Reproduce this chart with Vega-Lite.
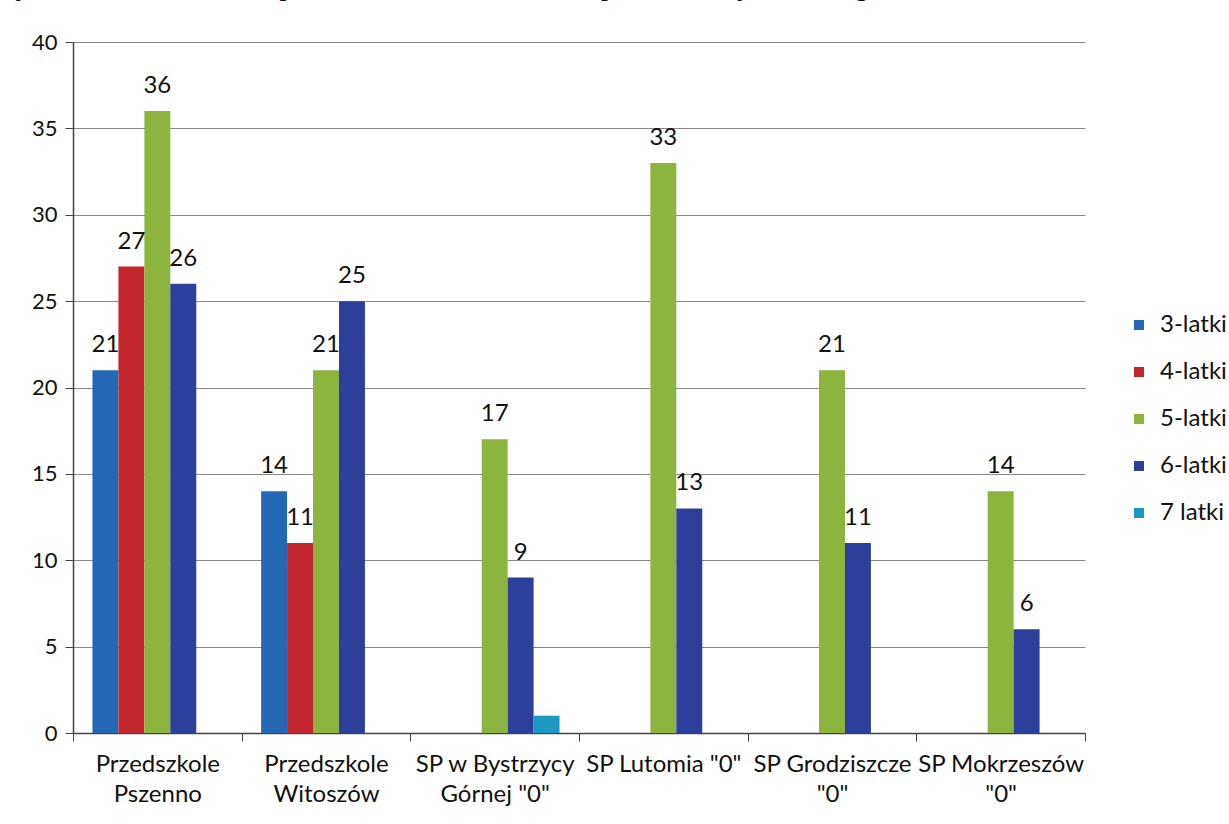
{
  "$schema": "https://vega.github.io/schema/vega-lite/v6.json",
  "width": 1012,
  "height": 691,
  "autosize": {"type": "none"},
  "padding": {"left": 73, "top": 42, "right": 144, "bottom": 91},
  "background": "white",
  "title": {
    "text": "Wykres: Liczba dzieci w przedszkolach i oddziałach przedszkolnych według stanu na 30 września 2016.",
    "font": "Liberation Serif",
    "fontStyle": "italic",
    "fontWeight": "normal",
    "fontSize": 29,
    "color": "#111",
    "anchor": "start",
    "frame": "group",
    "dx": -76,
    "offset": 30
  },
  "data": {
    "values": [
      {"szkola": "Przedszkole\nPszenno", "wiek": "3-latki", "liczba": 21},
      {"szkola": "Przedszkole\nPszenno", "wiek": "4-latki", "liczba": 27},
      {"szkola": "Przedszkole\nPszenno", "wiek": "5-latki", "liczba": 36},
      {"szkola": "Przedszkole\nPszenno", "wiek": "6-latki", "liczba": 26},
      {"szkola": "Przedszkole\nWitoszów", "wiek": "3-latki", "liczba": 14},
      {"szkola": "Przedszkole\nWitoszów", "wiek": "4-latki", "liczba": 11},
      {"szkola": "Przedszkole\nWitoszów", "wiek": "5-latki", "liczba": 21},
      {"szkola": "Przedszkole\nWitoszów", "wiek": "6-latki", "liczba": 25},
      {"szkola": "SP w Bystrzycy\nGórnej \"0\"", "wiek": "5-latki", "liczba": 17},
      {"szkola": "SP w Bystrzycy\nGórnej \"0\"", "wiek": "6-latki", "liczba": 9},
      {"szkola": "SP w Bystrzycy\nGórnej \"0\"", "wiek": "7 latki", "liczba": 1},
      {"szkola": "SP Lutomia \"0\"", "wiek": "5-latki", "liczba": 33},
      {"szkola": "SP Lutomia \"0\"", "wiek": "6-latki", "liczba": 13},
      {"szkola": "SP Grodziszcze\n\"0\"", "wiek": "5-latki", "liczba": 21},
      {"szkola": "SP Grodziszcze\n\"0\"", "wiek": "6-latki", "liczba": 11},
      {"szkola": "SP Mokrzeszów\n\"0\"", "wiek": "5-latki", "liczba": 14},
      {"szkola": "SP Mokrzeszów\n\"0\"", "wiek": "6-latki", "liczba": 6}
    ]
  },
  "encoding": {
    "x": {
      "field": "szkola",
      "type": "nominal",
      "sort": null,
      "scale": {"paddingInner": 0, "paddingOuter": 0},
      "axis": {
        "title": null,
        "labelAngle": 0,
        "labelExpr": "split(datum.label, '\\n')",
        "labelFont": "Lato",
        "labelFontSize": 24,
        "labelColor": "#111",
        "labelLineHeight": 30,
        "labelPadding": 11,
        "labelBaseline": "top",
        "tickBand": "extent",
        "tickSize": 8,
        "tickColor": "#444",
        "domainColor": "#444",
        "domainWidth": 1.5,
        "grid": false
      }
    },
    "xOffset": {
      "field": "wiek",
      "type": "nominal",
      "scale": {"domain": ["3-latki", "4-latki", "5-latki", "6-latki", "7 latki"], "paddingInner": 0, "paddingOuter": 0.75}
    },
    "y": {
      "field": "liczba",
      "type": "quantitative",
      "scale": {"domain": [0, 40], "nice": false},
      "axis": {
        "title": null,
        "values": [0, 5, 10, 15, 20, 25, 30, 35, 40],
        "labelFont": "Lato",
        "labelFontSize": 22,
        "labelColor": "#111",
        "labelPadding": 8,
        "tickSize": 8,
        "tickColor": "#444",
        "domainColor": "#444",
        "domainWidth": 1.5,
        "gridColor": "#888",
        "gridWidth": 1
      }
    }
  },
  "layer": [
    {
      "mark": {"type": "bar"},
      "encoding": {
        "color": {
          "field": "wiek",
          "type": "nominal",
          "scale": {
            "domain": ["3-latki", "4-latki", "5-latki", "6-latki", "7 latki"],
            "range": ["#2468b5", "#c1272d", "#8cb43f", "#2d3e9b", "#1d98c2"]
          },
          "legend": {
            "title": null,
            "orient": "none",
            "legendX": 1054,
            "legendY": 271,
            "padding": 0,
            "symbolType": "square",
            "symbolSize": 100,
            "symbolStrokeWidth": 0,
            "labelFont": "Lato",
            "labelFontSize": 24,
            "labelColor": "#111",
            "labelOffset": 9,
            "rowPadding": 23
          }
        }
      }
    },
    {
      "transform": [{"filter": "datum.wiek != '7 latki'"}],
      "mark": {"type": "text", "baseline": "alphabetic", "dy": -18, "font": "Lato", "fontSize": 24, "color": "#111"},
      "encoding": {"text": {"field": "liczba", "type": "quantitative"}}
    }
  ],
  "config": {"view": {"stroke": null}}
}
